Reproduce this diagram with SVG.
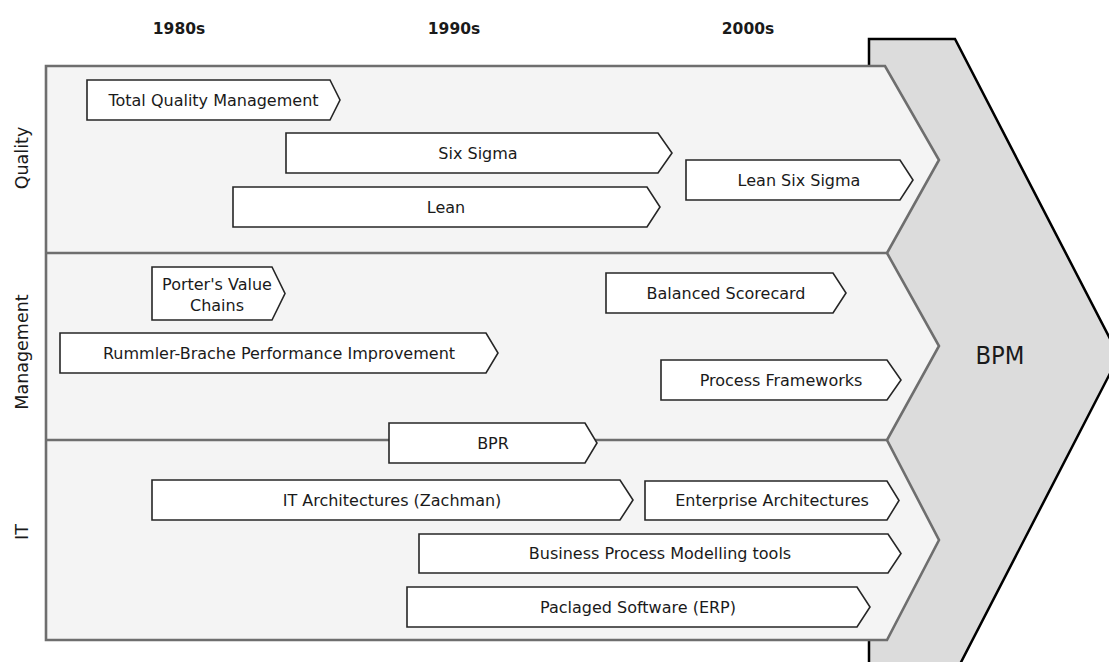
<svg xmlns="http://www.w3.org/2000/svg" width="1109" height="662" viewBox="0 0 1109 662">
<style>
text{font-family:"DejaVu Sans","Liberation Sans",sans-serif;fill:#1a1a1a}
.yr{font-size:15.5px;font-weight:bold;text-anchor:middle}
.lane{font-size:17.5px;text-anchor:middle}
.lbl{font-size:16px;text-anchor:middle}
.box{fill:#ffffff;stroke:#262626;stroke-width:1.6}
.panel{fill:#f4f4f4;stroke:#6e6e6e;stroke-width:2.6;stroke-linejoin:miter}
.sep{stroke:#6e6e6e;stroke-width:2.6;fill:none}
</style>
<rect width="1109" height="662" fill="#ffffff"/>
<g id="bpm">
<path d="M869,39 L955,39 L1119,356 L958,668 L869,668 Z" fill="#dcdcdc" stroke="#000" stroke-width="2.5"/>
<text x="1000" y="364" font-size="25" text-anchor="middle" textLength="49" lengthAdjust="spacingAndGlyphs">BPM</text>
</g>
<g id="panel">
<path class="panel" d="M46,66 L885,66 L939,160 L887,253 L939,346 L887,440 L939,540 L887,640 L46,640 Z"/>
</g>
<g id="connectors">
<line class="sep" x1="46" y1="253" x2="887" y2="253"/>
<line class="sep" x1="46" y1="440" x2="887" y2="440"/>
</g>
<g id="years">
<text class="yr" x="179" y="34">1980s</text>
<text class="yr" x="454" y="34">1990s</text>
<text class="yr" x="748" y="34">2000s</text>
</g>
<g id="lanes">
<text class="lane" transform="translate(27.5,158) rotate(-90)">Quality</text>
<text class="lane" transform="translate(27.5,352) rotate(-90)">Management</text>
<text class="lane" transform="translate(27.5,532) rotate(-90)">IT</text>
</g>
<g id="tqm"><path class="box" d="M87,80 L330,80 L340,100 L330,120 L87,120 Z"/><text class="lbl" x="213.5" y="106">Total Quality Management</text></g>
<g id="six-sigma"><path class="box" d="M286,133 L658,133 L672,153 L658,173 L286,173 Z"/><text class="lbl" x="478" y="159">Six Sigma</text></g>
<g id="lean-six-sigma"><path class="box" d="M686,160 L900,160 L913,180 L900,200 L686,200 Z"/><text class="lbl" x="799" y="186">Lean Six Sigma</text></g>
<g id="lean"><path class="box" d="M233,187 L647,187 L660,207 L647,227 L233,227 Z"/><text class="lbl" x="446" y="213">Lean</text></g>
<g id="porter"><path class="box" d="M152,267 L272,267 L285,293.5 L272,320 L152,320 Z"/><text class="lbl" x="217" y="290">Porter's Value</text><text class="lbl" x="217" y="311">Chains</text></g>
<g id="rummler"><path class="box" d="M60,333 L486,333 L498,353 L486,373 L60,373 Z"/><text class="lbl" x="279" y="359">Rummler-Brache Performance Improvement</text></g>
<g id="balanced"><path class="box" d="M606,273 L833,273 L846,293 L833,313 L606,313 Z"/><text class="lbl" x="726" y="299">Balanced Scorecard</text></g>
<g id="process-frameworks"><path class="box" d="M661,360 L887,360 L901,380 L887,400 L661,400 Z"/><text class="lbl" x="781" y="386">Process Frameworks</text></g>
<g id="bpr"><path class="box" d="M389,423 L585,423 L597,443 L585,463 L389,463 Z"/><text class="lbl" x="493" y="449">BPR</text></g>
<g id="it-arch"><path class="box" d="M152,480 L620,480 L633,500 L620,520 L152,520 Z"/><text class="lbl" x="392" y="506">IT Architectures (Zachman)</text></g>
<g id="enterprise-arch"><path class="box" d="M645,481 L887,481 L899,500.5 L887,520 L645,520 Z"/><text class="lbl" x="772" y="506">Enterprise Architectures</text></g>
<g id="bpm-tools"><path class="box" d="M419,534 L888,534 L901,553.5 L888,573 L419,573 Z"/><text class="lbl" x="660" y="559">Business Process Modelling tools</text></g>
<g id="erp"><path class="box" d="M407,587 L857,587 L870,607 L857,627 L407,627 Z"/><text class="lbl" x="638" y="613">Paclaged Software (ERP)</text></g>
</svg>
